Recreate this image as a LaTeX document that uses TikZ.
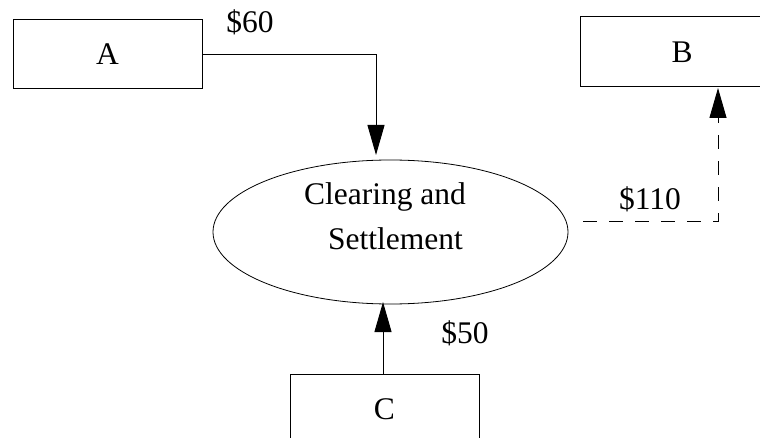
\documentclass[tikz,border=0pt]{standalone}
\usepackage{fontspec}
\setmainfont{Liberation Serif}
\usetikzlibrary{arrows.meta,shapes.geometric}
\begin{document}
\begin{tikzpicture}[x=1pt,y=-1pt,
  every node/.style={font=\fontsize{31.5}{45}\selectfont},
  party/.style={draw,line width=1pt,rectangle,minimum width=189pt,minimum height=69pt,inner sep=0pt},
  hub/.style={draw,line width=0.8pt,ellipse,minimum width=355pt,minimum height=144pt,inner sep=0pt},
  flow/.style={line width=1pt,-{Triangle[length=30pt,width=17pt]}},
  pending/.style={flow,dash pattern=on 14pt off 12pt},
  amount/.style={anchor=base,inner sep=0pt}]
\useasboundingbox (0,0) rectangle (760,438);
\fill[white] (0,0) rectangle (760,438);

% parties and the clearing house
\node[party] (A) at (107.5,54.5) {A};
\node[party,minimum width=204pt,minimum height=70pt] (B) at (682,52) {B};
\node[party] (C) at (384.5,409) {C};
\node[hub] (E) at (390.5,232) {};
\node[amount] (t1) at (385,205) {Clearing and};
\node[amount] (t2) at (395.5,250) {Settlement};

% connector end points
\coordinate (ain) at (376,155);
\coordinate (cin) at (383,302);
\coordinate (bout) at (583,222);
\coordinate (bin) at (718,88);

% payment flows
\draw[flow] (A.east) -| (ain);
\draw[flow] (C.north -| cin) -- (cin);
\draw[pending] (bout) -| (bin);

% amounts
\node[amount] (l60) at (250,33) {\$60};
\node[amount] (l110) at (650,210) {\$110};
\node[amount] (l50) at (465,343) {\$50};
\end{tikzpicture}
\end{document}
